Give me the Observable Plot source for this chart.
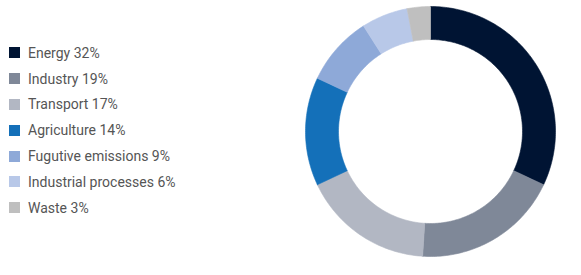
<!DOCTYPE html>
<html>
<head>
<meta charset="utf-8">
<script src="https://cdn.jsdelivr.net/npm/d3@7"></script>
<script src="https://cdn.jsdelivr.net/npm/@observablehq/plot@0.6"></script>
<style>
  html, body { margin: 0; padding: 0; background: #fff; }
  #wrap { position: relative; width: 581px; height: 275px; overflow: hidden; }
  #legend { position: absolute; left: 9px; top: 40px; font-family: Roboto, sans-serif; font-size: 14px; color: #555; }
  .row { display: flex; align-items: center; height: 25.8px; white-space: nowrap; }
  .sw { width: 11px; height: 11px; margin-right: 8px; flex: none; }
  #chart { position: absolute; left: 0; top: 0; }
</style>
</head>
<body>
<div id="wrap"><div id="chart"></div><div id="legend"></div></div>
<script>
const categories = ["Energy", "Industry", "Transport", "Agriculture", "Fugutive emissions", "Industrial processes", "Waste"];
const shares = [32, 19, 17, 14, 9, 6, 3];
const colors = ["#001433", "#7f8898", "#b2b7c3", "#1470b9", "#8ea9d8", "#b8c8e8", "#bfbfbf"];

const legend = document.getElementById("legend");
categories.forEach((c, i) => {
  const row = document.createElement("div");
  row.className = "row";
  const sw = document.createElement("div");
  sw.className = "sw";
  sw.style.background = colors[i];
  row.appendChild(sw);
  row.appendChild(document.createTextNode(`${c} ${shares[i]}%`));
  legend.appendChild(row);
});

const inner = 0.736;
const total = d3.sum(shares);
let acc = 0;
const slices = categories.map((c, i) => {
  const a0 = acc / total * 2 * Math.PI;
  acc += shares[i];
  const a1 = acc / total * 2 * Math.PI;
  const n = Math.max(4, Math.ceil((a1 - a0) / (Math.PI / 180)));
  const pts = [];
  for (let k = 0; k <= n; k++) {
    const a = a0 + (a1 - a0) * k / n;
    pts.push({x: Math.sin(a), y: Math.cos(a)});
  }
  for (let k = n; k >= 0; k--) {
    const a = a0 + (a1 - a0) * k / n;
    pts.push({x: inner * Math.sin(a), y: inner * Math.cos(a)});
  }
  pts.push(pts[0]);
  return {cat: c, color: colors[i], pts};
});

const chart = Plot.plot({
  width: 581,
  height: 275,
  margin: 0,
  x: {domain: [-1, 1], range: [305, 555], axis: null},
  y: {domain: [-1, 1], range: [256, 6], axis: null},
  marks: slices.map(s => Plot.line(s.pts, {x: "x", y: "y", fill: s.color, stroke: s.color, strokeWidth: 0.6, curve: "linear"}))
});
document.getElementById("chart").appendChild(chart);
</script>
</body>
</html>
